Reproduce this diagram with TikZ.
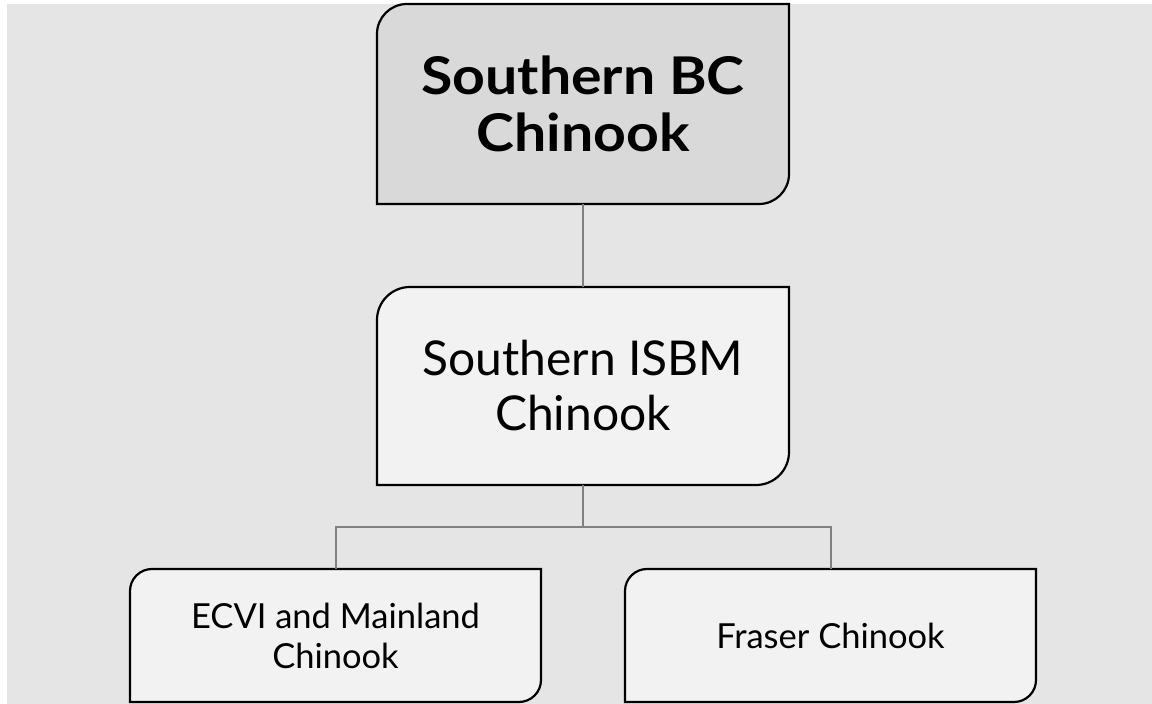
\documentclass[tikz,border=0pt]{standalone}
\usepackage{fontspec}
\setmainfont{Lato}
\newfontfamily\widebold{Lato}[FakeStretch=1.1]
\definecolor{bgc}{HTML}{E5E5E5}
\definecolor{topc}{HTML}{D9D9D9}
\definecolor{boxc}{HTML}{F2F2F2}
\definecolor{linec}{HTML}{808080}
\tikzset{
  x=1pt,y=1pt,
  outline/.style={draw=black,line width=2.2pt},
  txt/.style={draw=none,fill=none,inner sep=0pt,outer sep=0pt,align=center,text=black},
  conn/.style={draw=linec,line width=2pt},
}
\begin{document}
\begin{tikzpicture}
\useasboundingbox (0,0) rectangle (1152,704);
\fill[white] (0,0) rectangle (1152,704);
\fill[bgc] (7,0) rectangle (1152,700);
% top box
\path[outline,fill=topc] (377,500) -- (377,670) arc[start angle=180,end angle=90,radius=30] -- (789,700) -- (789,530) arc[start angle=0,end angle=-90,radius=30] -- cycle;
% middle box
\path[outline,fill=boxc] (377,219) -- (377,384) arc[start angle=180,end angle=90,radius=33] -- (789,417) -- (789,252) arc[start angle=0,end angle=-90,radius=33] -- cycle;
% bottom left
\path[outline,fill=boxc] (130,2) -- (130,113) arc[start angle=180,end angle=90,radius=22] -- (541,135) -- (541,24) arc[start angle=0,end angle=-90,radius=22] -- cycle;
% bottom right
\path[outline,fill=boxc] (625,2) -- (625,113) arc[start angle=180,end angle=90,radius=22] -- (1036,135) -- (1036,24) arc[start angle=0,end angle=-90,radius=22] -- cycle;
% nodes (frames equal to the outlines)
\node[txt,minimum width=412pt,minimum height=200pt,font=\widebold\fontsize{52}{57}\selectfont\bfseries] (top) at (583,600) {Southern BC\\Chinook};
\node[txt,minimum width=412pt,minimum height=198pt,font=\fontsize{48}{55}\selectfont] (mid) at (583,318) {Southern ISBM\\Chinook};
\node[txt,minimum width=411pt,minimum height=133pt,font=\fontsize{34.5}{40}\selectfont] (left) at (335.5,68.5) {ECVI and Mainland\\Chinook};
\node[txt,minimum width=411pt,minimum height=133pt,font=\fontsize{34.5}{40}\selectfont] (right) at (830.5,68.5) {Fraser Chinook};
% connectors
\draw[conn] (top.south) -- (mid.north);
\coordinate (junc) at (583,177);
\draw[conn] (mid.south) -- (junc);
\draw[conn] (left.north) |- (junc) -| (right.north);
\end{tikzpicture}
\end{document}
